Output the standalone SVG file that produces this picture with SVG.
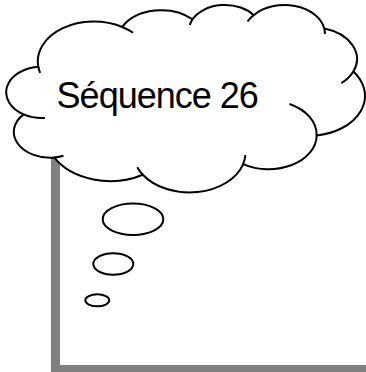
<svg xmlns="http://www.w3.org/2000/svg" width="366" height="372" viewBox="0 0 366 372">
<style>
.ln{fill:none;stroke:#000;stroke-width:2;stroke-linecap:butt}
.cloud{fill:#fff;stroke:#000;stroke-width:2}
.bub{fill:#fff;stroke:#000;stroke-width:2}
.shadow{fill:#808080}
.t{font-family:"Liberation Sans",Arial,sans-serif;font-size:36px;letter-spacing:-1px;fill:#000}
</style>
<rect width="366" height="372" fill="#fff"/>
<g id="frame">
<rect class="shadow" x="51" y="150" width="9" height="222"/>
<rect class="shadow" x="51" y="365" width="315" height="7"/>
</g>
<g id="cloud">
<path class="cloud" d="M38.3,66.7 A56.11,39.87 0 0 1 122.25,26.96 A44.31,31.52 0 0 1 192.47,19.28 A36.27,25.79 0 0 1 253.76,15.15 A40.36,28.61 0 0 1 324.26,28.57 A44.31,31.55 0 0 1 353.35,71.46 A56.29,40 0 0 1 316.67,135.41 A48.07,34.13 0 0 1 243.15,164.08 A56.1,39.97 0 0 1 142.82,174.73 A64.15,45.74 0 0 1 54.25,157.45 A36.23,25.67 0 0 1 23.6,114.4 A36.1,25.79 0 0 1 38.3,66.7 Z"/>
<path class="ln" d="M40.2,72.9 A56.11,39.87 0 0 1 38.3,66.7 M122.25,26.96 A56.11,39.87 0 0 1 133.1,32.8 M189.9,24.9 A36.27,25.79 0 0 1 192.47,19.28 M247.5,21.5 A40.36,28.61 0 0 1 253.76,15.15 M324.26,28.57 A40.36,28.61 0 0 1 324.9,34.05 M353.35,71.46 A44.31,31.55 0 0 1 341.3,83.1 M289.5,104 A48.07,34.13 0 0 1 316.67,135.41 M245.4,155.2 A56.1,39.97 0 0 1 243.15,164.08 M142.82,174.73 A56.1,39.97 0 0 1 137.3,167.2 M63.5,155.8 A36.23,25.67 0 0 1 54.25,157.45 M44.9,117.96 A36.1,25.79 0 0 1 23.6,114.4"/>
<text class="t" x="56.6" y="108.3">Séquence 26</text>
</g>
<g id="bubbles">
<ellipse class="bub" cx="133" cy="219.3" rx="30.3" ry="15.7"/>
<ellipse class="bub" cx="113.3" cy="264" rx="20" ry="10.7"/>
<ellipse class="bub" cx="97.3" cy="300.3" rx="12" ry="6"/>
</g>
</svg>
